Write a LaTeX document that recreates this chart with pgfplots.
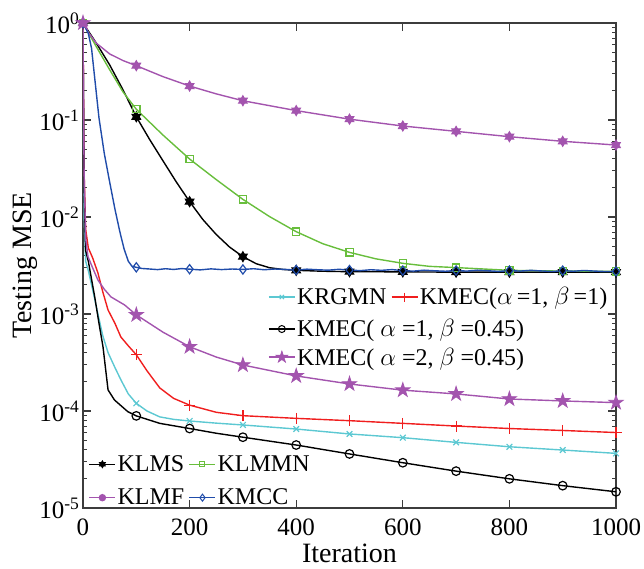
\documentclass[border=0pt]{standalone}
\usepackage{fontspec}
\setmainfont{Liberation Serif}
\usepackage{pgfplots}
\pgfplotsset{compat=1.18}

\definecolor{cgreen}{RGB}{104,190,60}
\definecolor{cmag}{RGB}{163,84,174}
\definecolor{cblue}{RGB}{32,76,170}
\definecolor{ccyan}{RGB}{92,200,210}
\definecolor{cred}{RGB}{240,30,30}
\definecolor{caxis}{RGB}{60,60,60}

% filled pentagram
\pgfdeclareplotmark{fpent}{%
  \pgfpathmoveto{\pgfpointpolar{90}{1.25\pgfplotmarksize}}%
  \pgfpathlineto{\pgfpointpolar{234}{1.25\pgfplotmarksize}}%
  \pgfpathlineto{\pgfpointpolar{18}{1.25\pgfplotmarksize}}%
  \pgfpathlineto{\pgfpointpolar{162}{1.25\pgfplotmarksize}}%
  \pgfpathlineto{\pgfpointpolar{306}{1.25\pgfplotmarksize}}%
  \pgfpathclose
  \pgfusepathqfillstroke}
% hexagram
\pgfdeclareplotmark{hexa}{%
  \pgfpathmoveto{\pgfpointpolar{90}{\pgfplotmarksize}}%
  \pgfpathlineto{\pgfpointpolar{210}{\pgfplotmarksize}}%
  \pgfpathlineto{\pgfpointpolar{330}{\pgfplotmarksize}}%
  \pgfpathclose
  \pgfpathmoveto{\pgfpointpolar{270}{\pgfplotmarksize}}%
  \pgfpathlineto{\pgfpointpolar{30}{\pgfplotmarksize}}%
  \pgfpathlineto{\pgfpointpolar{150}{\pgfplotmarksize}}%
  \pgfpathclose
  \pgfusepathqfillstroke}

\pgfplotsset{
  legend image code/.code={\draw[mark repeat=2,mark phase=2,#1]
      plot coordinates {(0pt,0pt) (13pt,0pt) (26pt,0pt)};},
  legend cell align=left,
  every axis legend/.append style={draw=none,fill=none,inner sep=0pt,
      font=\fontsize{24}{26}\selectfont,
      nodes={inner sep=1.5pt},
      /tikz/every even column/.append style={column sep=3pt}},
}

\begin{document}
\begin{tikzpicture}
\begin{axis}[width=533pt,height=485pt,scale only axis,
  xmin=0,xmax=1000,ymode=log,ymin=1e-5,ymax=1,
  axis line style={caxis,line width=1.1pt},
  major tick style={caxis,line width=1.1pt},
  minor tick style={caxis,line width=0.8pt},
  major tick length=8pt, minor tick length=4pt,
  xtick={0,200,...,1000},
  tick label style={font=\fontsize{25}{28}\selectfont},
  xticklabel style={yshift=-7pt},
  /pgf/number format/assume math mode=true,
  /pgf/number format/1000 sep={},
  yticklabel={10\textsuperscript{\pgfmathparse{int(round(\tick/ln(10)))}\pgfmathresult}},
  xlabel={Iteration}, ylabel={Testing MSE},
  label style={font=\fontsize{28}{30}\selectfont},
  xlabel style={at={(axis description cs:0.5,-0.093)},anchor=center},
  ylabel style={at={(axis description cs:-0.108,0.5)},anchor=center},
  legend columns=2,
  legend style={at={(0.0103,0.0557)},anchor=west,row sep=13pt},
]
% KLMS
\addplot[black,line width=1.4pt,forget plot] coordinates {(0,1) (25,0.62) (50,0.37) (75,0.205) (100,0.108) (125,0.063) (150,0.038) (175,0.023) (200,0.0144) (225,0.0094) (250,0.0066) (275,0.0049) (300,0.0039) (325,0.0033) (350,0.0030) (375,0.00288) (400,0.00282) (450,0.00276) (500,0.00273) (600,0.00272) (700,0.0027) (800,0.0027) (900,0.0027) (1000,0.0027)};
\addplot[black,only marks,mark=hexa,mark size=5pt,mark options={fill=black,line width=1pt},forget plot] coordinates {(0,1) (100,0.108) (200,0.0144) (300,0.0039) (400,0.00282) (500,0.00273) (600,0.00272) (700,0.0027) (800,0.0027) (900,0.0027) (1000,0.0027)};
% KLMMN
\addplot[cgreen,line width=1.4pt,forget plot] coordinates {(0,1) (25,0.57) (50,0.33) (75,0.195) (100,0.129) (150,0.070) (200,0.0396) (250,0.0243) (300,0.0152) (350,0.0101) (400,0.00706) (450,0.0053) (500,0.00432) (550,0.0037) (600,0.00333) (650,0.0031) (700,0.00301) (800,0.00282) (900,0.00277) (1000,0.00275)};
\addplot[cgreen,only marks,mark=square,mark size=3.6pt,mark options={line width=1.2pt},forget plot] coordinates {(0,1) (100,0.129) (200,0.0396) (300,0.0152) (400,0.00706) (500,0.00432) (600,0.00333) (700,0.00301) (800,0.00282) (900,0.00277) (1000,0.00275)};
% KLMF
\addplot[cmag,line width=1.4pt,forget plot] coordinates {(0,1) (10,0.8) (25,0.62) (50,0.48) (75,0.41) (100,0.363) (150,0.28) (200,0.224) (250,0.186) (300,0.158) (400,0.125) (500,0.102) (600,0.0867) (700,0.0764) (800,0.0673) (900,0.0603) (1000,0.0552)};
\addplot[cmag,only marks,mark=hexa,mark size=5pt,mark options={fill=cmag,line width=1pt},forget plot] coordinates {(0,1) (100,0.363) (200,0.224) (300,0.158) (400,0.125) (500,0.102) (600,0.0867) (700,0.0764) (800,0.0673) (900,0.0603) (1000,0.0552)};
% KMCC
\addplot[cblue,line width=1.4pt,forget plot] coordinates {(0,1) (10,0.78) (16,0.55) (22,0.27) (30,0.105) (40,0.045) (50,0.023) (60,0.012) (69,0.0071) (77,0.0047) (85,0.0035) (92,0.0031) (100,0.00303) (110,0.00295) (125,0.00291) (140,0.00287) (155,0.00293) (170,0.00288) (185,0.00294) (200,0.0029) (220,0.00285) (240,0.00292) (260,0.00287) (280,0.00291) (300,0.00288) (320,0.00293) (340,0.00286) (360,0.00291) (380,0.00288) (400,0.00284) (420,0.0029) (440,0.00286) (460,0.00283) (480,0.00289) (500,0.00284) (520,0.0028) (540,0.00286) (560,0.00282) (580,0.00287) (600,0.0028) (620,0.00277) (640,0.00283) (660,0.00279) (680,0.00276) (700,0.00281) (720,0.00277) (740,0.00283) (760,0.00279) (780,0.00275) (800,0.0028) (820,0.00277) (840,0.00282) (860,0.00278) (880,0.00274) (900,0.0028) (920,0.00276) (940,0.00281) (960,0.00277) (980,0.00274) (1000,0.00275)};
\addplot[cblue,only marks,mark=diamond,mark size=4.6pt,mark options={line width=1.2pt},forget plot] coordinates {(0,1) (100,0.00303) (200,0.0029) (300,0.00288) (400,0.00284) (500,0.00284) (600,0.0028) (700,0.00281) (800,0.0028) (900,0.0028) (1000,0.00275)};
% KRGMN
\addplot[ccyan,line width=1.4pt,forget plot] coordinates {(0,1) (2,0.01) (5,0.0035) (10,0.0028) (20,0.0016) (28,0.001) (37,0.0006) (47,0.0004) (60,0.00028) (71,0.00021) (85,0.00015) (100,0.00012) (120,0.0001) (144,0.000087) (170,0.000082) (200,0.0000789) (250,0.000075) (300,0.0000718) (400,0.0000652) (500,0.000058) (600,0.0000531) (700,0.0000475) (800,0.0000428) (900,0.0000396) (1000,0.0000366)};
\addplot[ccyan,only marks,mark=x,mark size=4pt,mark options={line width=1.2pt},forget plot] coordinates {(100,0.00012) (200,0.0000789) (300,0.0000718) (400,0.0000652) (500,0.000058) (600,0.0000531) (700,0.0000475) (800,0.0000428) (900,0.0000396) (1000,0.0000366)};
% KMEC(1,1)
\addplot[cred,line width=1.4pt,forget plot] coordinates {(0,1) (2,0.03) (5,0.0075) (10,0.0048) (18,0.0038) (28,0.00265) (37,0.0017) (47,0.0011) (60,0.0008) (71,0.00058) (85,0.00047) (100,0.00038) (120,0.00026) (144,0.000173) (170,0.000135) (200,0.000115) (250,0.000097) (300,0.0000895) (400,0.000084) (500,0.0000795) (600,0.0000746) (700,0.00007) (800,0.000066) (900,0.000063) (1000,0.00006)};
\addplot[cred,only marks,mark=+,mark size=5.5pt,mark options={line width=1.2pt},forget plot] coordinates {(100,0.00038) (200,0.000115) (300,0.0000895) (400,0.000084) (500,0.0000795) (600,0.0000746) (700,0.00007) (800,0.000066) (900,0.000063) (1000,0.00006)};
% KMEC(1,0.45)
\addplot[black,line width=1.4pt,forget plot] coordinates {(0,1) (2,0.02) (5,0.0045) (10,0.0035) (22,0.0015) (30,0.0008) (37.5,0.00046) (47,0.000165) (59,0.00013) (84,0.0000985) (100,0.0000891) (144,0.0000746) (200,0.000066) (250,0.000059) (300,0.0000537) (400,0.0000446) (500,0.0000361) (600,0.0000293) (700,0.000024) (800,0.00002) (900,0.000017) (1000,0.0000147)};
\addplot[black,only marks,mark=o,mark size=4.3pt,mark options={line width=1.2pt},forget plot] coordinates {(100,0.0000891) (200,0.000066) (300,0.0000537) (400,0.0000446) (500,0.0000361) (600,0.0000293) (700,0.000024) (800,0.00002) (900,0.000017) (1000,0.0000147)};
% KMEC(2,0.45)
\addplot[cmag,line width=1.4pt,forget plot] coordinates {(0,1) (2,0.03) (5,0.006) (9.4,0.0039) (18,0.003) (28,0.00224) (40,0.0018) (52.5,0.0015) (78,0.00124) (100,0.00098) (150,0.00065) (200,0.00046) (250,0.00036) (300,0.000298) (400,0.00023) (500,0.00019) (600,0.000164) (700,0.00015) (800,0.000133) (900,0.000127) (1000,0.000122)};
\addplot[cmag,only marks,mark=fpent,mark size=6pt,mark options={fill=cmag,line width=0.8pt},forget plot] coordinates {(0,1) (100,0.00098) (200,0.00046) (300,0.000298) (400,0.00023) (500,0.00019) (600,0.000164) (700,0.00015) (800,0.000133) (900,0.000127) (1000,0.000122)};

\addlegendimage{black,line width=1.4pt,mark=hexa,mark size=3.5pt,mark options={fill=black,line width=0.8pt}}
\addlegendentry{KLMS}
\addlegendimage{cgreen,line width=1.4pt,mark=square,mark size=2.5pt,mark options={line width=1pt}}
\addlegendentry{KLMMN}
\addlegendimage{cmag,line width=1.4pt,mark=*,mark size=3pt}
\addlegendentry{KLMF}
\addlegendimage{cblue,line width=1.4pt,mark=diamond,mark size=3.5pt,mark options={line width=1pt}}
\addlegendentry{KMCC}
\end{axis}

\begin{axis}[width=533pt,height=485pt,scale only axis,
  xmin=0,xmax=1000,ymin=0,ymax=1,hide axis,legend columns=2,
  legend style={at={(0.347,0.435)},anchor=west}]
\addlegendimage{ccyan,line width=1.4pt,mark=x,mark size=3pt,mark options={line width=1pt}}
\addlegendentry{KRGMN}
\addlegendimage{cred,line width=1.4pt,mark=+,mark size=4.5pt,mark options={line width=1pt}}
\addlegendentry{KMEC($\alpha\,$=1, $\beta\,$=1)}
\end{axis}

\begin{axis}[width=533pt,height=485pt,scale only axis,
  xmin=0,xmax=1000,ymin=0,ymax=1,hide axis,
  legend style={at={(0.347,0.369)},anchor=west}]
\addlegendimage{black,line width=1.4pt,mark=o,mark size=3.5pt,mark options={line width=1pt}}
\addlegendentry{KMEC( $\alpha$ =1, $\beta$ =0.45)}
\end{axis}

\begin{axis}[width=533pt,height=485pt,scale only axis,
  xmin=0,xmax=1000,ymin=0,ymax=1,hide axis,
  legend style={at={(0.347,0.311)},anchor=west}]
\addlegendimage{cmag,line width=1.4pt,mark=fpent,mark size=5pt,mark options={fill=cmag,line width=0.6pt}}
\addlegendentry{KMEC( $\alpha$ =2, $\beta$ =0.45)}
\end{axis}
\pgfresetboundingbox
\useasboundingbox (-83pt,-60pt) rectangle (561pt,508pt);
\end{tikzpicture}
\end{document}
